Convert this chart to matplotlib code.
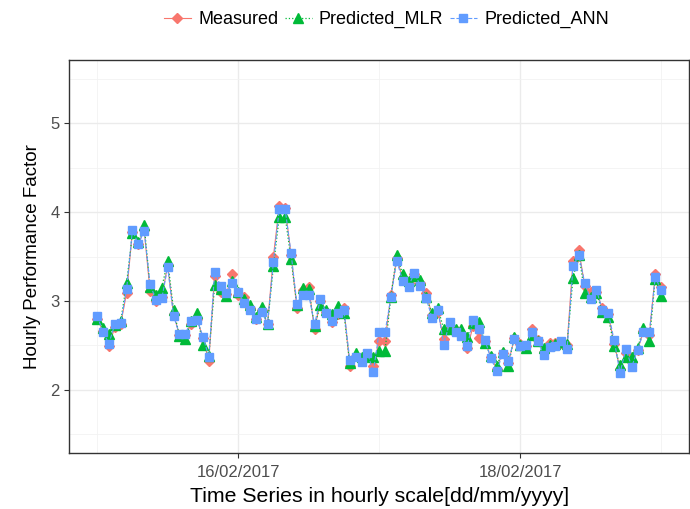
import matplotlib
matplotlib.use("Agg")
import matplotlib.pyplot as plt
import matplotlib.dates as mdates
import pandas as pd
from matplotlib.lines import Line2D

plt.rcParams["font.family"] = ["Liberation Sans", "DejaVu Sans"]

times = pd.date_range("2017-02-15 00:00", periods=97, freq="h")

measured = [2.80, 2.66, 2.49, 2.71, 2.74, 3.09, 3.78, 3.64, 3.80, 3.11,
            3.00, 3.05, 3.40, 2.85, 2.62, 2.62, 2.74, 2.80, 2.58, 2.33,
            3.28, 3.10, 3.08, 3.30, 3.07, 3.05, 2.92, 2.80, 2.90, 2.74,
            3.50, 4.07, 4.05, 3.52, 2.92, 3.12, 3.16, 2.68, 3.00, 2.88,
            2.76, 2.85, 2.92, 2.27, 2.38, 2.35, 2.40, 2.27, 2.55, 2.55,
            3.07, 3.48, 3.26, 3.20, 3.30, 3.20, 3.09, 2.84, 2.88, 2.57,
            2.72, 2.67, 2.64, 2.47, 2.72, 2.58, 2.55, 2.37, 2.24, 2.42,
            2.30, 2.58, 2.52, 2.49, 2.68, 2.56, 2.43, 2.53, 2.53, 2.53,
            2.51, 3.45, 3.57, 3.17, 3.10, 3.10, 2.92, 2.85, 2.52, 2.24,
            2.42, 2.31, 2.45, 2.66, 2.62, 3.30, 3.16]

pred_mlr = [2.80, 2.70, 2.63, 2.73, 2.77, 3.20, 3.76, 3.66, 3.85, 3.16,
            3.07, 3.15, 3.45, 2.90, 2.61, 2.57, 2.77, 2.86, 2.50, 2.38,
            3.18, 3.14, 3.06, 3.22, 3.10, 3.02, 2.96, 2.82, 2.93, 2.74,
            3.39, 3.95, 3.95, 3.47, 2.95, 3.15, 3.13, 2.72, 2.96, 2.90,
            2.85, 2.94, 2.86, 2.30, 2.42, 2.37, 2.38, 2.37, 2.44, 2.44,
            3.05, 3.52, 3.30, 3.22, 3.28, 3.24, 3.04, 2.86, 2.92, 2.68,
            2.68, 2.68, 2.68, 2.60, 2.75, 2.76, 2.53, 2.38, 2.27, 2.43,
            2.27, 2.60, 2.50, 2.47, 2.62, 2.55, 2.47, 2.50, 2.52, 2.54,
            2.52, 3.26, 3.52, 3.09, 3.05, 3.09, 2.88, 2.82, 2.49, 2.28,
            2.37, 2.37, 2.47, 2.70, 2.55, 3.25, 3.06]

pred_ann = [2.83, 2.65, 2.52, 2.74, 2.75, 3.13, 3.80, 3.64, 3.79, 3.19,
            3.01, 3.03, 3.38, 2.83, 2.63, 2.63, 2.78, 2.79, 2.60, 2.37,
            3.33, 3.17, 3.09, 3.20, 3.10, 2.98, 2.90, 2.80, 2.88, 2.74,
            3.44, 4.04, 4.03, 3.54, 2.97, 3.07, 3.07, 2.74, 3.02, 2.87,
            2.78, 2.87, 2.90, 2.34, 2.37, 2.31, 2.42, 2.20, 2.65, 2.65,
            3.04, 3.45, 3.23, 3.16, 3.32, 3.17, 3.03, 2.81, 2.90, 2.51,
            2.76, 2.65, 2.61, 2.49, 2.79, 2.68, 2.56, 2.36, 2.21, 2.40,
            2.33, 2.57, 2.49, 2.50, 2.65, 2.55, 2.39, 2.48, 2.49, 2.55,
            2.46, 3.39, 3.52, 3.20, 3.02, 3.12, 2.90, 2.87, 2.56, 2.19,
            2.46, 2.26, 2.45, 2.65, 2.65, 3.27, 3.12]

major_dates = ["2017-02-16", "2017-02-18"]
major_labels = ["16/02/2017", "18/02/2017"]
minor_dates = ["2017-02-15", "2017-02-17", "2017-02-19"]

RED = "#F8766D"; GREEN = "#00BA38"; BLUE = "#619CFF"

fig = plt.figure(figsize=(6.9, 5.09), dpi=100)
ax = fig.add_axes([0.100, 0.110, 0.899, 0.772])

ax.plot(times, measured, color=RED, ls="-", lw=0.8, marker="D", ms=5, zorder=3)
ax.plot(times, pred_mlr, color=GREEN, ls=":", lw=0.9, marker="^", ms=6.5, zorder=4)
ax.plot(times, pred_ann, color=BLUE, ls="--", lw=0.8, marker="s", ms=6, zorder=5)

pad = pd.Timedelta(hours=4.8)
ax.set_xlim(times[0] - pad, times[-1] + pad)
ax.set_ylim(1.29, 5.71)

ax.set_xticks([mdates.date2num(pd.Timestamp(d)) for d in major_dates])
ax.set_xticklabels(major_labels)
ax.set_xticks([mdates.date2num(pd.Timestamp(d)) for d in minor_dates], minor=True)
ax.set_yticks([2, 3, 4, 5])
ax.set_yticks([1.5, 2.5, 3.5, 4.5, 5.5], minor=True)

ax.grid(which="major", color="#EBEBEB", lw=1.0, zorder=0)
ax.grid(which="minor", color="#F2F2F2", lw=0.6, zorder=0)
ax.set_axisbelow(True)
ax.tick_params(which="major", length=3.5, width=0.8, color="#333333",
               labelcolor="#4D4D4D", labelsize=12, pad=3)
ax.tick_params(axis="x", which="major", pad=5)
ax.tick_params(which="minor", length=0)
for s in ax.spines.values():
    s.set_color("#333333"); s.set_linewidth(1.0)

ax.set_xlabel("Time Series in hourly scale[dd/mm/yyyy]", fontsize=15.3, labelpad=5)
ax.set_ylabel("Hourly Performance Factor", fontsize=13.5, labelpad=7)

handles = [Line2D([], [], color=RED, ls="-", marker="D", ms=5, lw=0.8),
           Line2D([], [], color=GREEN, ls=":", marker="^", ms=6.5, lw=0.9),
           Line2D([], [], color=BLUE, ls="--", marker="s", ms=6, lw=0.8)]
fig.legend(handles, ["Measured", "Predicted_MLR", "Predicted_ANN"], loc="center",
           bbox_to_anchor=(0.56, 0.961), ncol=3, frameon=False, fontsize=13,
           handlelength=1.5, handletextpad=0.4, columnspacing=0.35)

fig.savefig("out.png", dpi=100, facecolor="white")
